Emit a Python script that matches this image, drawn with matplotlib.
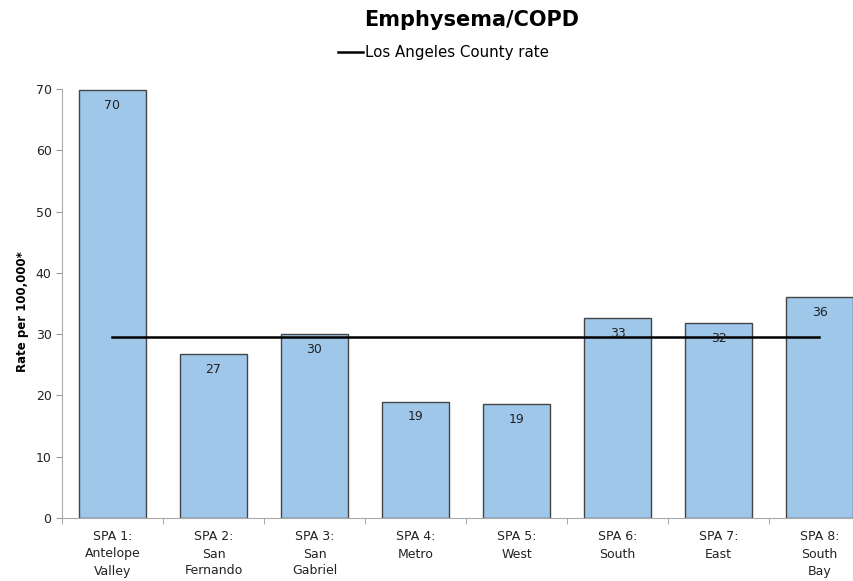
import matplotlib
matplotlib.use("Agg")
import matplotlib.pyplot as plt
import numpy as np

categories = [
    "SPA 1:\nAntelope\nValley",
    "SPA 2:\nSan\nFernando",
    "SPA 3:\nSan\nGabriel",
    "SPA 4:\nMetro",
    "SPA 5:\nWest",
    "SPA 6:\nSouth",
    "SPA 7:\nEast",
    "SPA 8:\nSouth\nBay",
]
rates = [69.8, 26.8, 30.0, 19.0, 18.6, 32.6, 31.8, 36.1]
county_rate = 29.5

plt.rcParams["font.family"] = ["DejaVu Sans"]

fig = plt.figure(figsize=(8.54, 5.81), dpi=100)
ax = fig.add_axes([62 / 854, 63 / 581, 808 / 854, 429 / 581])

x = np.arange(len(categories))
ax.bar(x, rates, width=0.67, color="#9fc7ea", edgecolor="#454545", linewidth=1.0, zorder=2)
for xi, v in zip(x, rates):
    ax.text(xi, v - 2.5, f"{v:.0f}", ha="center", va="center", fontsize=9, color="#222222", zorder=4)

ax.plot(x, [county_rate] * len(x), color="black", linewidth=1.8, zorder=3,
        label="Los Angeles County rate")

ax.set_xlim(-0.5, len(categories) - 0.5)
ax.set_ylim(0, 70)
ax.set_yticks(range(0, 71, 10))
ax.set_xticks(x)
ax.set_xticklabels(categories, fontsize=9, color="#222222", linespacing=1.4)
ax.set_xticks(np.arange(-0.5, len(categories), 1), minor=True)
ax.tick_params(axis="x", which="major", length=0, pad=9)
ax.tick_params(axis="x", which="minor", length=4, color="#999999")
ax.tick_params(axis="y", length=4, color="#999999", labelsize=9, labelcolor="#222222")

for side in ["top", "right"]:
    ax.spines[side].set_visible(False)
for side in ["left", "bottom"]:
    ax.spines[side].set_color("#aaaaaa")

fig.text(23 / 854, 1 - 312 / 581, "Rate per 100,000*", rotation=90, ha="center", va="center",
         fontsize=8.5, fontweight="bold")

fig.text(472 / 854, 1 - 20 / 581, "Emphysema/COPD", ha="center", va="center", fontsize=15, fontweight="bold")
fig.legend(loc="center", bbox_to_anchor=(443 / 854, 1 - 53 / 581), frameon=False, fontsize=10.8,
           handlelength=1.7, handletextpad=0.1)

fig.savefig("out.png", dpi=100)
